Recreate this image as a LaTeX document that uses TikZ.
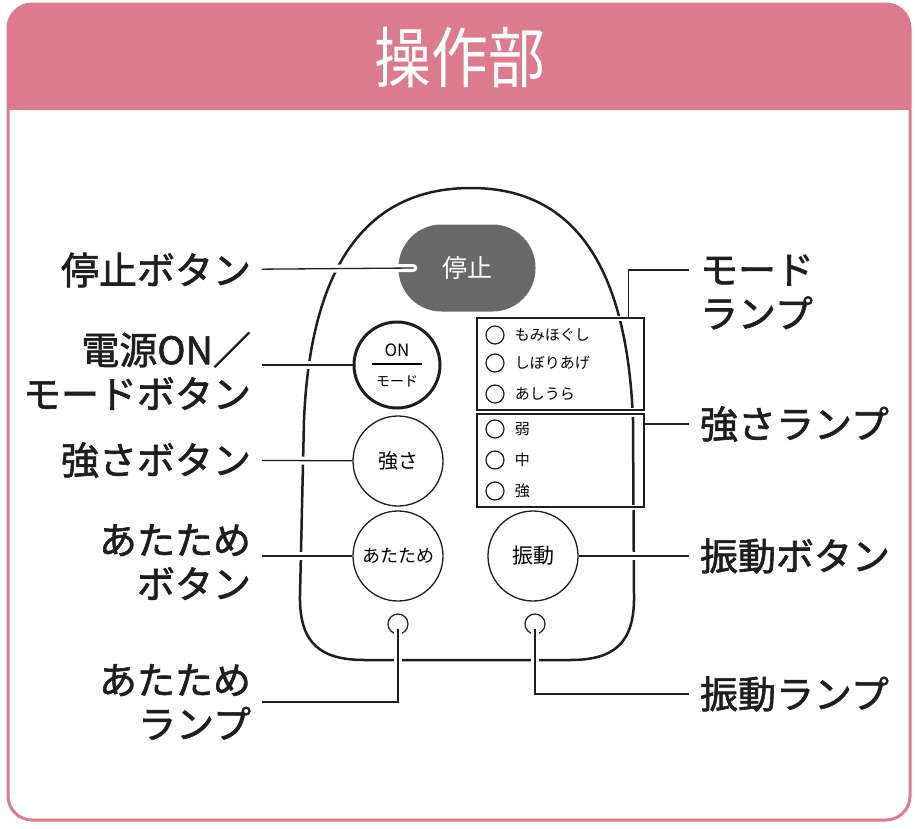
\documentclass[tikz,border=0pt]{standalone}
\usepackage{fontspec}
\setmainfont{Noto Sans CJK JP}
\newfontfamily\titlefont[FakeStretch=0.86]{Noto Sans CJK JP}
\newfontfamily\labelfont[FakeBold=1.6]{Noto Sans CJK JP}
\usetikzlibrary{positioning}

\definecolor{rosepink}{RGB}{220,123,141}
\definecolor{stopgrey}{RGB}{104,104,104}
\definecolor{inkblack}{RGB}{30,30,30}

\begin{document}
\begin{tikzpicture}[
    x=1pt, y=-1pt,
    lblleft/.style={anchor=east, align=right, inner sep=0pt, outer sep=11pt, text=inkblack, font=\labelfont\fontsize{38}{44}\selectfont},
    lblright/.style={anchor=west, align=left, inner sep=0pt, outer sep=11pt, text=inkblack, font=\labelfont\fontsize{38}{44}\selectfont},
    btn/.style={draw=inkblack, circle, line width=1.3pt, minimum size=90pt, inner sep=0pt, fill=white},
    lampbox/.style={draw=inkblack, line width=1.5pt, minimum width=167pt, preaction={draw=white, line width=5pt}},
    lampdot/.style={draw=inkblack, circle, line width=1.2pt, minimum size=18pt, inner sep=0pt},
    lamptext/.style={inner sep=1pt, font=\fontsize{15}{15}\selectfont},
    wire/.style={draw=inkblack, line width=1.3pt, preaction={draw=white, line width=8pt, shorten <=4pt, shorten >=4pt}},
    lampwire/.style={draw=inkblack, line width=1.3pt, preaction={draw=white, line width=8pt, shorten >=4pt}},
    body/.style={draw=inkblack, line width=2.5pt}
]
\useasboundingbox (0,0) rectangle (916,828);

% frame and title
\begin{scope}
  \clip[rounded corners=24pt] (8,4) rectangle (910,820);
  \fill[rosepink] (0,0) rectangle (916,110);
\end{scope}
\draw[rosepink, line width=3pt, rounded corners=24pt] (8,4) rectangle (910,820);
\node[text=white, font=\titlefont\fontsize{66}{66}\selectfont] (title) at (460,57) {操作部};

% remote body
\draw[body] (300,595) -- (304,420)
  .. controls (312,232) and (392,188) .. (471,188)
  .. controls (552,188) and (626,236) .. (633,420)
  -- (634,595)
  .. controls (635,645) and (612,660) .. (570,660)
  -- (365,660)
  .. controls (322,660) and (299,645) .. (300,595) -- cycle;

% lamp boxes
\node[lampbox, minimum height=92pt] (modebox) at (560.5,364) {};
\node[lampbox, minimum height=93pt] (powbox) at (560.5,460.5) {};
\foreach \y/\t [count=\i] in {335/もみほぐし, 363/しぼりあげ, 394/あしうら, 429/弱, 460/中, 491/強} {
  \node[lampdot] (dot\i) at (495,\y) {};
  \node[lamptext, right=9pt of dot\i] (txt\i) {\t};
}

% buttons
\node[btn, line width=3pt, minimum size=86pt] (on) at (397,365) {};
\node[font=\fontsize{17}{17}\selectfont, inner sep=0pt] (ontxt) at (397,350) {ON};
\node[font=\fontsize{14}{14}\selectfont, inner sep=0pt] (modetxt) at (397,381) {モード};
\draw[line width=1.3pt] (372,364) -- (422,364);
\node[btn, font=\fontsize{20}{20}\selectfont] (pow) at (398,461) {強さ};
\node[btn, font=\fontsize{18}{18}\selectfont] (warm) at (398,556) {あたため};
\node[btn, font=\fontsize{21}{21}\selectfont] (vib) at (533,556) {振動};
\node[lampdot, minimum size=20pt] (warmlamp) at (398,624) {};
\node[lampdot, minimum size=20pt] (viblamp) at (535,624) {};

% labels
\node[lblleft] (stoplbl) at (262,270) {停止ボタン};
\node[lblleft] (onlbl) at (262,371) {電源ON／\\モードボタン};
\node[lblleft] (powlbl) at (262,460) {強さボタン};
\node[lblleft] (warmlbl) at (262,562) {あたため\\ボタン};
\node[lblleft] (warmlamplbl) at (262,702) {あたため\\ランプ};
\node[lblright] (modelbl) at (689,292) {モード\\ランプ};
\node[lblright] (powlamplbl) at (689,424) {強さランプ};
\node[lblright] (viblbl) at (689,556) {振動ボタン};
\node[lblright] (viblamplbl) at (689,694) {振動ランプ};

% connectors
\draw[wire] (onlbl.east |- on) -- (on);
\draw[wire] (powlbl) -- (pow);
\draw[wire] (warmlbl.east |- warm) -- (warm);
\draw[wire] (vib) -- (viblbl);
\draw[lampwire] ([yshift=-5pt]warmlamp.center) |- (warmlamplbl.east);
\draw[lampwire] ([yshift=-5pt]viblamp.center) |- (viblamplbl.west);
\draw[wire] ([xshift=-16pt]modebox.north east) |- ([yshift=22pt]modelbl.west);
\draw[wire] (powlamplbl.west -| powbox.east) -- (powlamplbl.west);

% stop button
\node[fill=stopgrey, rounded corners=43pt, minimum width=137pt, minimum height=87pt, text=white, font=\fontsize{25}{25}\selectfont] (stop) at (467,268) {停止};
\draw[draw=inkblack, line width=1.3pt, line cap=round, preaction={draw=white, line width=8pt, line cap=round}] (stoplbl) -- ([xshift=15pt]stop.west);
\end{tikzpicture}
\end{document}
